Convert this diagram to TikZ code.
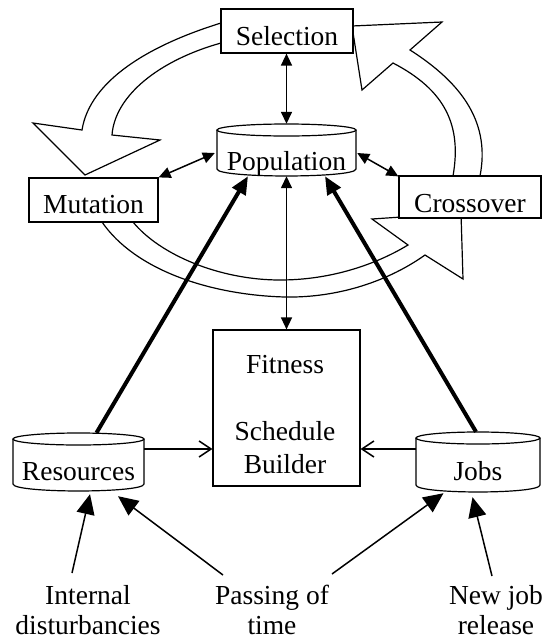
\documentclass[tikz,border=0pt]{standalone}
\usepackage{fontspec}
\setmainfont{Liberation Serif}
\usetikzlibrary{arrows.meta,calc}
\newcommand\cylpath[4]{% left top right bottom
  \path[fill=white] (#1,{#2+6}) -- (#1,{#4-7}) .. controls (#1,{#4+2.3}) and (#3,{#4+2.3}) .. (#3,{#4-7}) -- (#3,{#2+6}) -- cycle;
  \draw[cylline] (#1,{#2+6}) -- (#1,{#4-7}) .. controls (#1,{#4+2.3}) and (#3,{#4+2.3}) .. (#3,{#4-7}) -- (#3,{#2+6});
  \draw[cylline, fill=white] ({(#1+#3)/2},{#2+6}) ellipse [x radius={(#3-#1)/2}, y radius=6];
}
\begin{document}
\begin{tikzpicture}[x=1pt,y=-1pt,
  txt/.style={font=\fontsize{27.5}{33}\selectfont, inner sep=0pt},
  box/.style={txt, draw, line width=1.2pt, fill=white, text height=28pt, text depth=0pt},
  cylbox/.style={txt, text depth=0pt},
  cylline/.style={line width=1.2pt},
  lab/.style={txt, align=center, anchor=north, font=\fontsize{27.5}{30}\selectfont},
  band/.style={draw, line width=1.2pt, fill=white, line join=miter},
  link/.style={line width=1.5pt},
  dbl/.style={link, {Triangle[length=12pt,width=11pt]}-{Triangle[length=12pt,width=11pt]}},
  heavy/.style={line width=4pt, -{Triangle[length=18pt,width=15pt]}},
  feed/.style={link, -{Straight Barb[length=12pt,width=16pt]}},
  push/.style={link, -{Triangle[length=20pt,width=18pt]}}
]
\useasboundingbox (0,0) rectangle (547,641);

% block arrows of the cycle
\path[band] (226,23) -- (221,23) .. controls (150,45) and (90,80) .. (82,130) -- (33,123) -- (85,175) -- (160,140) -- (112,135) .. controls (115,95) and (160,60) .. (221,43) -- (226,43) -- cycle;
\path[band] (102,215) -- (102,222) .. controls (135,270) and (210,295) .. (285,297) .. controls (340,298) and (390,280) .. (425,255) -- (463,279) -- (461,213) -- (372,219) -- (408,245) .. controls (375,265) and (330,280) .. (280,280) .. controls (220,280) and (160,255) .. (133,222) -- (133,215) -- cycle;
\path[band] (480,182) -- (480,176) .. controls (490,125) and (465,85) .. (410,50) -- (442,22) -- (352,26) -- (362,90) -- (393,63) .. controls (445,90) and (462,125) .. (453,176) -- (453,182) -- cycle;

% operators
\node[box, minimum width=132pt, minimum height=44pt] (sel) at (287,31) {Selection};
\node[box, minimum width=129pt, minimum height=44pt, text height=26pt] (mut) at (93.5,200) {Mutation};
\node[box, minimum width=142pt, minimum height=42pt, text height=30pt] (cro) at (470,197) {Crossover};

% data stores
\cylpath{217}{124}{356}{176}
\node[cylbox, minimum width=139pt, minimum height=52pt, text height=40pt] (pop) at (286.5,150) {Population};
\cylpath{13}{433}{144}{491}
\node[cylbox, minimum width=131pt, minimum height=58pt, text height=36pt] (res) at (78.5,462) {Resources};
\cylpath{416}{432}{540}{492}
\node[cylbox, minimum width=124pt, minimum height=60pt, text height=36pt] (jobs) at (478,462) {Jobs};

% fitness / schedule builder
\node[draw, line width=1.2pt, minimum width=147pt, minimum height=156pt, inner sep=0pt] (fit) at (286.5,408) {};
\node[txt, anchor=base] (fitA) at (285,373) {Fitness};
\node[txt, anchor=base] (fitB) at (285,440) {Schedule};
\node[txt, anchor=base] (fitC) at (285,473) {Builder};

% external events
\node[lab] (int) at (88,585) {Internal\\disturbancies};
\node[lab] (pass) at (272,585) {Passing of\\time};
\node[lab] (new) at (496,585) {New job\\release};

% connectors
\draw[dbl] (pop.north |- sel.south) -- (pop.north);
\draw[dbl] (mut.north east) -- ($(pop.west)+(-2,3)$);
\draw[dbl] ($(cro.north west)+(0,1)$) -- ($(pop.east)+(1,3)$);
\draw[dbl] (pop.south) -- (fit.north);
\draw[heavy] ($(res.north)+(18,0)$) -- ($(pop.south)+(-38.5,0)$);
\draw[heavy] ($(jobs.north)+(-2,0)$) -- ($(pop.south)+(38.5,0)$);
\draw[feed] ($(res.east)+(0,-13)$) -- ($(fit.west)+(0,41)$);
\draw[feed] ($(jobs.west)+(0,-13)$) -- ($(fit.east)+(0,41)$);
\draw[push] ($(int.north)+(-16,-12)$) -- ($(res.south)+(11.5,3)$);
\draw[push] ($(pass.north)+(-49,-10)$) -- ($(res.south)+(39.5,5)$);
\draw[push] ($(pass.north)+(60,-11)$) -- ($(jobs.south)+(-34.5,1)$);
\draw[push] ($(new.north)+(-4,-9)$) -- ($(jobs.south)+(-5.5,5)$);
\end{tikzpicture}
\end{document}
